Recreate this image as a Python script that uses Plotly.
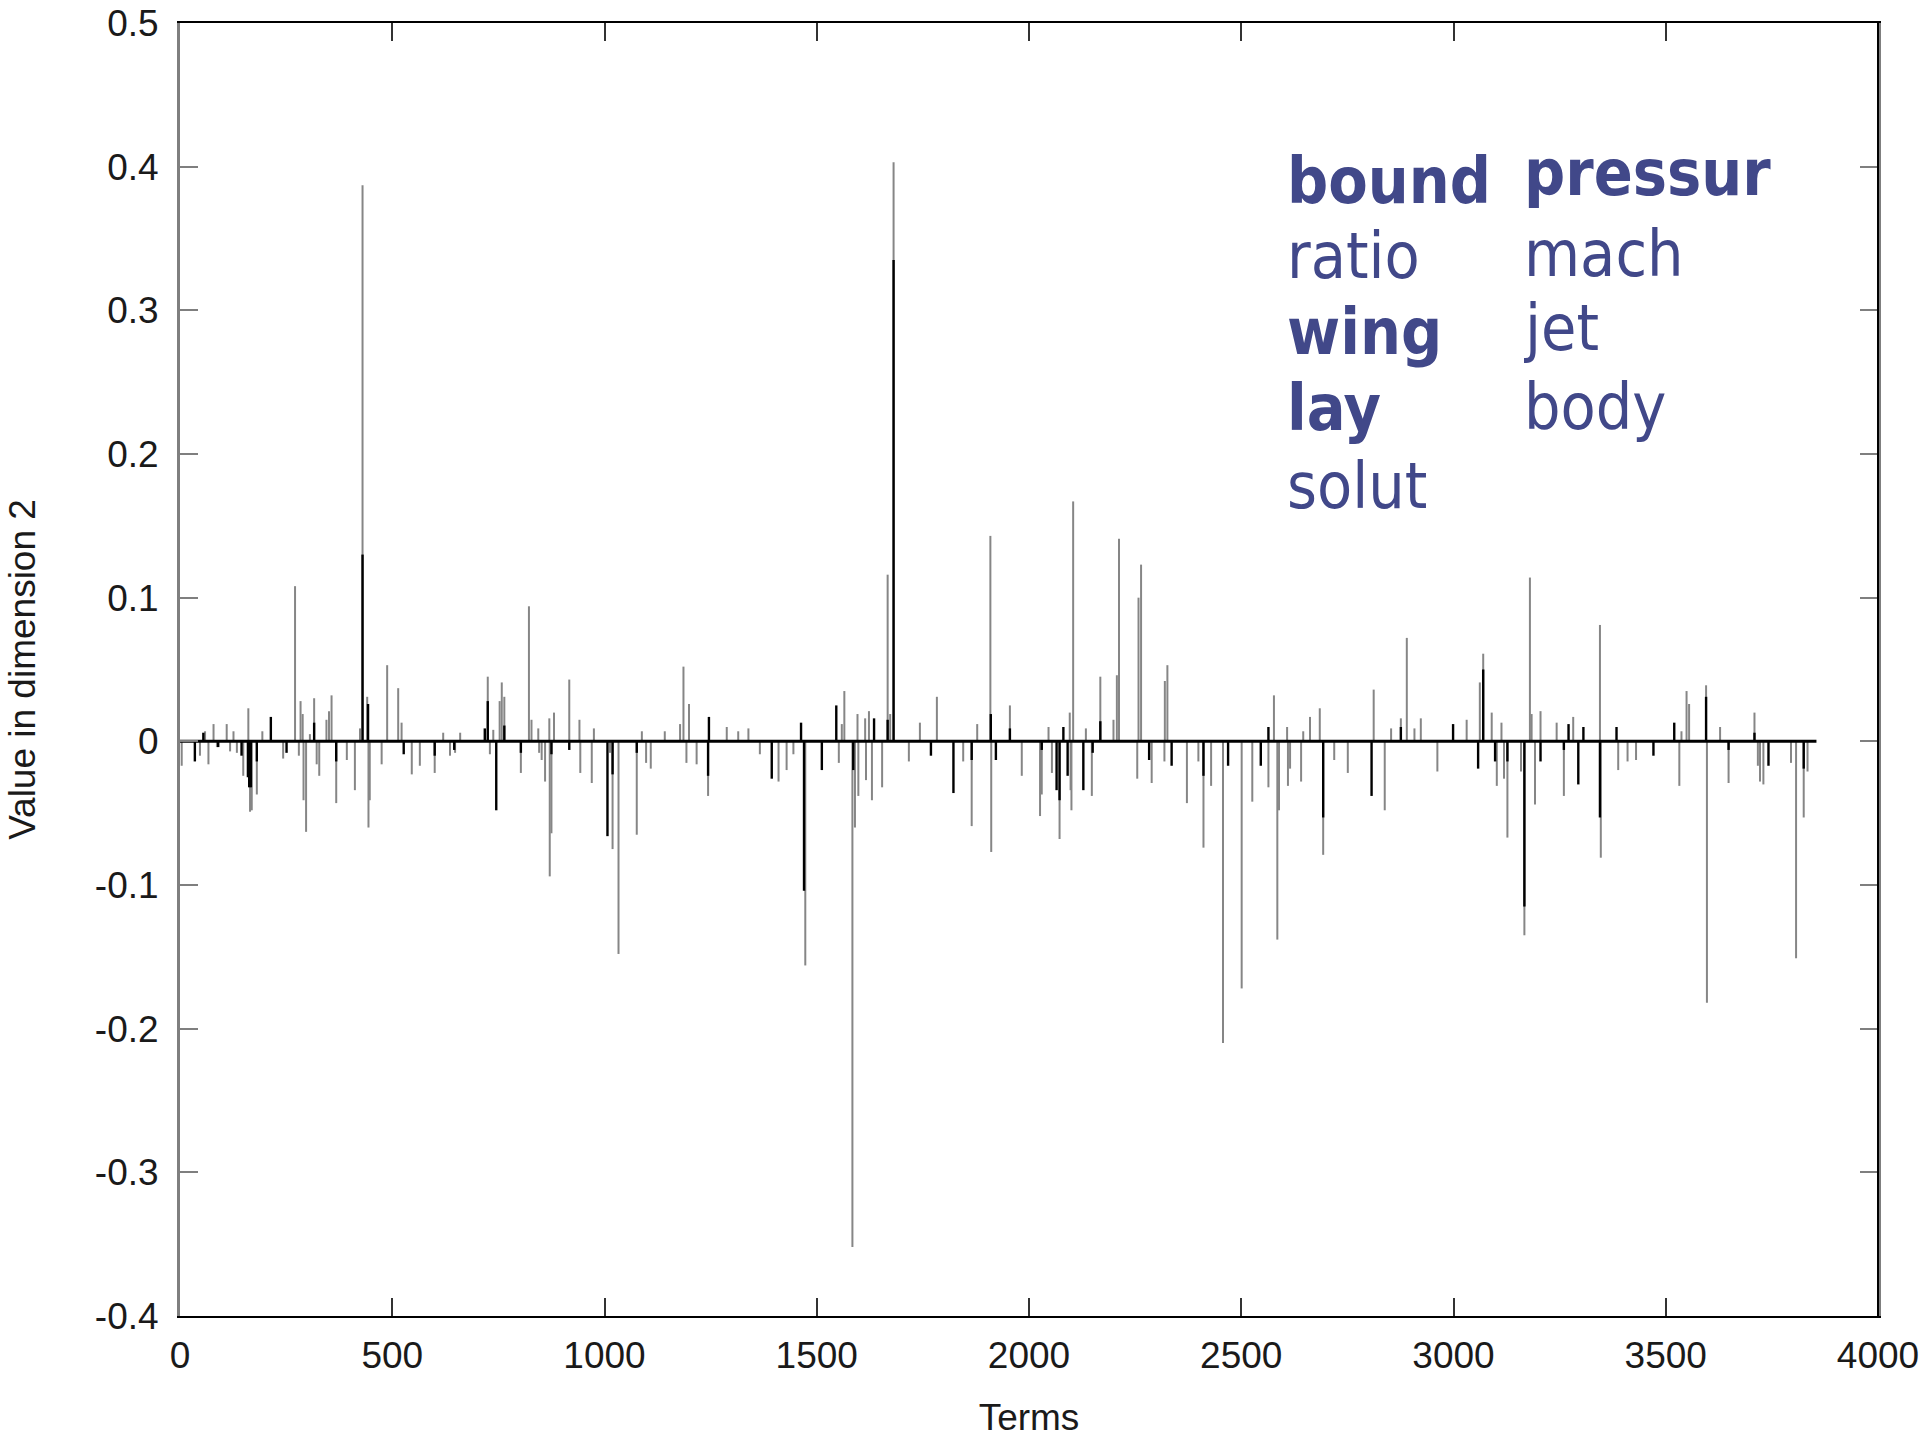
import plotly.graph_objects as go

# ---------------- data ----------------
gray_terms = [4, 47, 59, 67, 79, 87, 110, 118, 126, 134, 149, 161, 165, 169, 181, 194, 243, 271, 280, 284,
              289, 291, 297, 306, 316, 322, 328, 345, 351, 357, 368, 393, 412, 424, 430, 441, 444, 447, 475, 488,
              514, 522, 546, 565, 600, 620, 636, 648, 660, 725, 730, 738, 753, 758, 764, 803, 822, 828, 844, 846,
              852, 860, 870, 871, 875, 881, 917, 941, 943, 970, 975, 1013, 1019, 1033, 1076, 1088, 1098, 1109, 1142, 1178,
              1186, 1193, 1199, 1217, 1244, 1288, 1315, 1339, 1366, 1410, 1429, 1445, 1473, 1552, 1559, 1565, 1584, 1590, 1596, 1598,
              1614, 1616, 1623, 1630, 1654, 1667, 1673, 1681, 1717, 1743, 1783, 1845, 1865, 1878, 1909, 1911, 1955, 1983, 2026, 2030,
              2046, 2054, 2072, 2096, 2098, 2100, 2104, 2134, 2148, 2168, 2199, 2207, 2212, 2255, 2258, 2264, 2289, 2319, 2320, 2326,
              2372, 2399, 2411, 2429, 2457, 2501, 2526, 2564, 2577, 2585, 2589, 2608, 2610, 2615, 2641, 2646, 2662, 2685, 2693, 2719,
              2751, 2812, 2838, 2853, 2876, 2890, 2908, 2923, 2962, 3031, 3062, 3070, 3090, 3102, 3113, 3119, 3127, 3159, 3167, 3180,
              3184, 3192, 3205, 3243, 3260, 3282, 3345, 3347, 3388, 3410, 3430, 3532, 3537, 3549, 3555, 3595, 3597, 3628, 3648, 3709,
              3717, 3722, 3730, 3795, 3807, 3825, 3834]
gray_values = [-0.017, -0.010, 0.007, -0.016, 0.012, -0.004, 0.012, -0.007, 0.007, -0.008, -0.024, 0.023, -0.049, -0.048, -0.037, 0.007, -0.012, 0.108, -0.010, 0.028,
               0.019, -0.041, -0.063, 0.005, 0.030, -0.016, -0.024, 0.015, 0.021, 0.032, -0.043, -0.013, -0.034, 0.009, 0.387, 0.031, -0.060, -0.041, -0.016, 0.053,
               0.037, 0.013, -0.023, -0.017, -0.022, 0.006, -0.010, -0.008, 0.006, 0.045, -0.009, 0.008, 0.028, 0.041, 0.031, -0.022, 0.094, 0.015, 0.009, -0.008,
               -0.013, -0.028, 0.016, -0.094, -0.064, 0.020, 0.043, 0.015, -0.022, -0.029, 0.009, -0.008, -0.075, -0.148, -0.065, 0.007, -0.015, -0.019, 0.007, 0.012,
               0.052, -0.015, 0.026, -0.016, -0.038, 0.010, 0.007, 0.009, -0.009, -0.028, -0.020, -0.009, -0.156, -0.015, 0.012, 0.035, -0.352, -0.060, 0.019, -0.038,
               0.016, -0.027, 0.021, -0.041, -0.032, 0.116, 0.019, 0.403, -0.014, 0.013, 0.031, -0.014, -0.059, 0.012, 0.143, -0.077, 0.025, -0.024, -0.052, -0.037,
               0.010, -0.022, -0.068, 0.020, -0.034, -0.048, 0.167, 0.009, -0.038, 0.045, 0.015, 0.046, 0.141, -0.026, 0.100, 0.123, -0.029, -0.014, 0.042, 0.053,
               -0.043, -0.014, -0.074, -0.031, -0.210, -0.172, -0.042, -0.032, 0.032, -0.138, -0.048, 0.010, -0.031, -0.019, -0.028, 0.007, 0.017, 0.023, -0.079, -0.013,
               -0.022, 0.036, -0.048, 0.009, 0.016, 0.072, 0.009, 0.016, -0.021, 0.015, 0.041, 0.061, 0.020, -0.031, 0.013, -0.026, -0.067, -0.021, -0.135, 0.114,
               0.019, -0.044, 0.021, 0.013, -0.038, 0.017, 0.081, -0.081, -0.020, -0.014, -0.013, -0.031, 0.007, 0.035, 0.026, 0.039, -0.182, 0.010, -0.029, 0.020,
               -0.017, -0.028, -0.030, -0.015, -0.151, -0.053, -0.021]

black_terms = [35, 55, 90, 145, 160, 163, 167, 181, 214, 251, 316, 368, 430, 443, 527, 600, 646, 718, 725, 745,
               764, 803, 875, 917, 1007, 1019, 1076, 1244, 1246, 1394, 1463, 1470, 1512, 1546, 1586, 1635, 1667, 1681, 1769, 1822,
               1865, 1910, 1922, 1955, 2030, 2065, 2072, 2081, 2091, 2128, 2150, 2168, 2283, 2336, 2411, 2469, 2546, 2564, 2693, 2807,
               2876, 2999, 3058, 3070, 3098, 3127, 3167, 3205, 3260, 3271, 3294, 3306, 3345, 3384, 3471, 3520, 3595, 3648, 3709, 3742,
               3825]
black_values = [-0.014, 0.006, -0.004, -0.010, -0.025, -0.032, -0.032, -0.014, 0.017, -0.008, 0.013, -0.014, 0.130, 0.026, -0.009, -0.010, -0.006, 0.009, 0.028, -0.048,
                0.011, -0.008, -0.009, -0.006, -0.066, -0.023, -0.008, -0.024, 0.017, -0.026, 0.013, -0.104, -0.020, 0.025, -0.020, 0.016, 0.015, 0.335, -0.010, -0.036,
                -0.013, 0.019, -0.013, 0.009, -0.006, -0.034, -0.041, 0.010, -0.024, -0.034, -0.008, 0.014, -0.013, -0.017, -0.024, -0.017, -0.017, 0.010, -0.053, -0.038,
                0.010, 0.012, -0.019, 0.050, -0.014, -0.014, -0.115, -0.014, -0.006, 0.012, -0.030, 0.010, -0.053, 0.010, -0.010, 0.013, 0.031, -0.006, 0.006, -0.017,
                -0.019]

baseline_terms = [0, 3855]

y_tick_vals = [-0.4, -0.3, -0.2, -0.1, 0, 0.1, 0.2, 0.3, 0.4, 0.5]
y_tick_text = ["-0.4", "-0.3", "-0.2", "-0.1", "0", "0.1", "0.2", "0.3", "0.4", "0.5"]
x_tick_vals = [0, 500, 1000, 1500, 2000, 2500, 3000, 3500, 4000]

words_col1 = ["bound", "ratio", "wing", "lay", "solut"]
bold_col1 = [True, False, True, True, False]
words_col2 = ["pressur", "mach", "jet", "body"]
bold_col2 = [True, False, False, False]


def impulses(terms, values):
    xs, ys = [], []
    for t, v in zip(terms, values):
        xs += [t, t, None]
        ys += [0, v, None]
    return xs, ys


gx, gy = impulses(gray_terms, gray_values)
bx, by = impulses(black_terms, black_values)

fig = go.Figure()
fig.add_trace(go.Scatter(x=gx, y=gy, mode="lines", line=dict(color="#868686", width=2),
                         hoverinfo="skip", showlegend=False))
fig.add_trace(go.Scatter(x=bx, y=by, mode="lines", line=dict(color="#000000", width=2.4),
                         hoverinfo="skip", showlegend=False))
fig.add_trace(go.Scatter(x=baseline_terms, y=[0, 0], mode="lines", line=dict(color="#000000", width=3),
                         hoverinfo="skip", showlegend=False))

tick_font = dict(family="Liberation Sans, Arial, sans-serif", size=37, color="#1a1a1a")

fig.update_xaxes(range=[0, 4000], tickvals=x_tick_vals, ticktext=[str(v) for v in x_tick_vals],
                 showgrid=False, zeroline=False, showline=True, linecolor="#000000", linewidth=2,
                 mirror="ticks", ticks="inside", ticklen=18, tickwidth=2, tickcolor="#333333",
                 tickfont=tick_font, ticklabelstandoff=6, automargin=False,
                 title=dict(text="Terms", font=tick_font, standoff=29))
fig.update_yaxes(range=[-0.4, 0.5], tickvals=y_tick_vals, ticktext=y_tick_text,
                 showgrid=False, zeroline=False, showline=True, linecolor="#7f7f7f", linewidth=3,
                 mirror="ticks", ticks="inside", ticklen=18, tickwidth=2, tickcolor="#7f7f7f",
                 tickfont=tick_font, ticklabelstandoff=11, automargin=False,
                 title=dict(text="Value in dimension 2", font=tick_font, standoff=48))

# right frame line drawn black
fig.add_shape(type="line", xref="paper", yref="paper", x0=1, x1=1, y0=0, y1=1,
              line=dict(color="#000000", width=2))

word_color = "#414889"
word_font_family = "DejaVu Sans Condensed, DejaVu Sans, Verdana, sans-serif"
col1_y = [0.8477, 0.7896, 0.7309, 0.6721, 0.6118]
col2_y = [0.8538, 0.7912, 0.7340, 0.6729]
for w, b, yy in zip(words_col1, bold_col1, col1_y):
    fig.add_annotation(x=0.6508, y=yy, xref="paper", yref="paper", xanchor="left", yanchor="bottom",
                       text=f"<b>{w}</b>" if b else w, showarrow=False,
                       font=dict(family=word_font_family, size=64, color=word_color))
for w, b, yy in zip(words_col2, bold_col2, col2_y):
    fig.add_annotation(x=0.7905, y=yy, xref="paper", yref="paper", xanchor="left", yanchor="bottom",
                       text=f"<b>{w}</b>" if b else w, showarrow=False,
                       font=dict(family=word_font_family, size=64, color=word_color))

fig.update_layout(width=1920, height=1440, margin=dict(l=180, r=42, t=23, b=124),
                  paper_bgcolor="white", plot_bgcolor="white")

fig.write_html("out.html")
